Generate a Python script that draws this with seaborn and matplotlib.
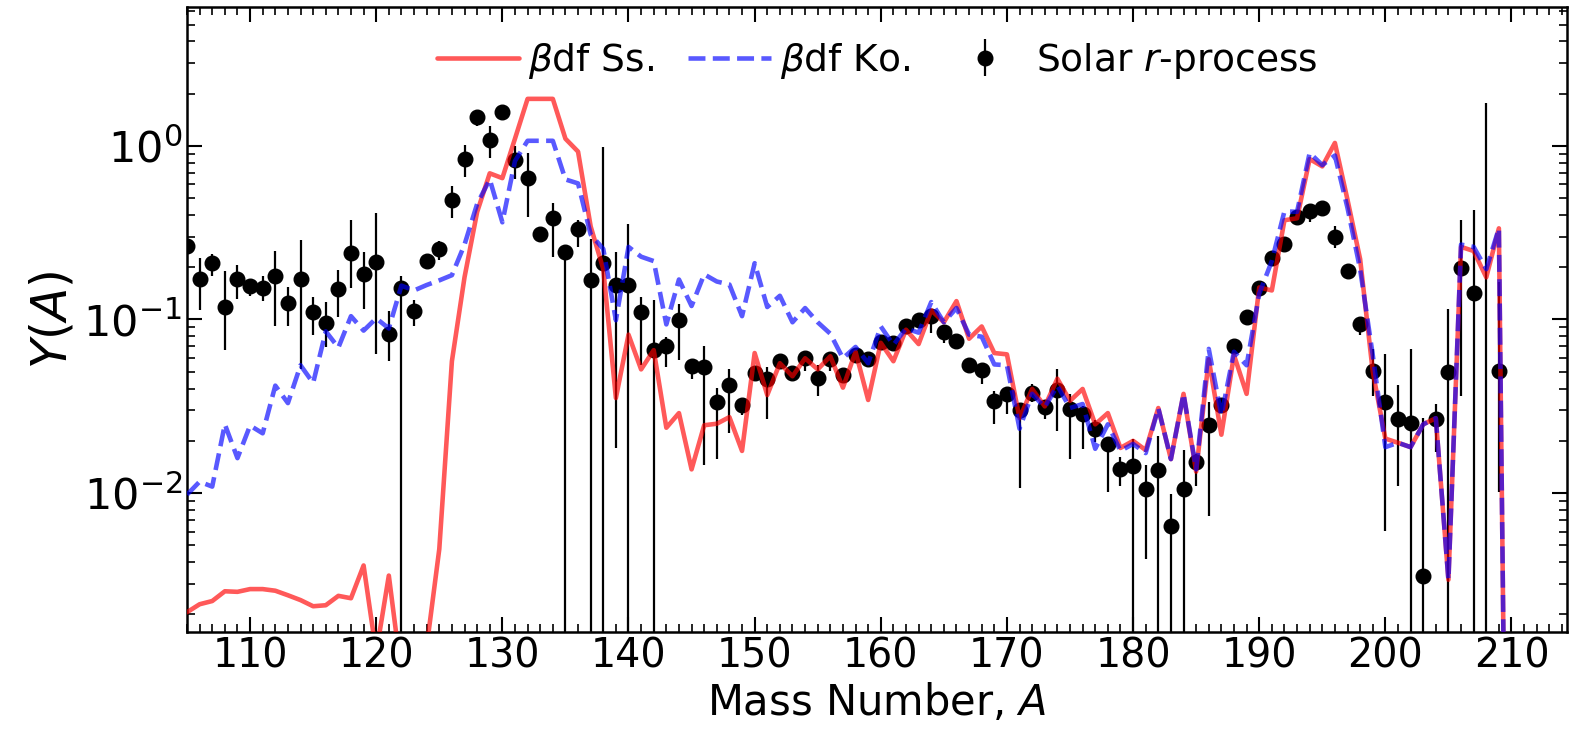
import numpy as np
import pandas as pd
import matplotlib
matplotlib.use("Agg")
import matplotlib.pyplot as plt
import seaborn as sns
from matplotlib.ticker import MultipleLocator, LogLocator

# ---------------- data ----------------
mass_model = list(range(105, 211))
ss_yield = [0.00206, 0.00229, 0.00239, 0.00272, 0.00270, 0.00280, 0.00280, 0.00274, 0.00258, 0.00242,
            0.00223, 0.00226, 0.00256, 0.00248, 0.00383, 0.0012, 0.00335, 0.0009, 0.0007, 0.0013,
            0.00476, 0.0575, 0.175, 0.416, 0.695, 0.652, 1.10, 1.866, 1.866, 1.866,
            1.10, 0.927, 0.344, 0.195, 0.0353, 0.0818, 0.0516, 0.0666, 0.0238, 0.0289,
            0.0137, 0.0246, 0.0251, 0.0274, 0.0175, 0.0641, 0.0367, 0.056, 0.0471, 0.0598,
            0.0516, 0.0614, 0.0405, 0.0652, 0.0344, 0.0734, 0.0575, 0.0873, 0.0722, 0.113,
            0.0964, 0.1276, 0.0775, 0.0912, 0.0641, 0.063, 0.027, 0.0398, 0.0316, 0.0456,
            0.034, 0.0398, 0.0249, 0.0289, 0.0182, 0.020, 0.0177, 0.0309, 0.0157, 0.0373,
            0.0133, 0.059, 0.0217, 0.0624, 0.0373, 0.153, 0.147, 0.373, 0.383, 0.84,
            0.762, 1.04, 0.489, 0.223, 0.0502, 0.0206, 0.0195, 0.0184, 0.0249, 0.027,
            0.00317, 0.262, 0.248, 0.175, 0.335, 1e-7]
ko_yield = [0.0098, 0.01164, 0.0109, 0.0249, 0.0159, 0.0245, 0.0221, 0.0416, 0.033, 0.0545,
            0.0431, 0.0855, 0.0689, 0.1045, 0.0863, 0.1016, 0.0888, 0.1567, 0.147, 0.158,
            0.168, 0.18, 0.27, 0.463, 0.641, 0.363, 0.818, 1.07, 1.07, 1.07,
            0.641, 0.608, 0.309, 0.255, 0.099, 0.262, 0.23, 0.217, 0.0937, 0.17,
            0.1196, 0.182, 0.1655, 0.159, 0.1045, 0.211, 0.118, 0.137, 0.0964, 0.1164,
            0.0964, 0.0828, 0.0598, 0.0695, 0.056, 0.0912, 0.0714, 0.0888, 0.084, 0.126,
            0.0964, 0.1164, 0.0818, 0.0796, 0.0551, 0.0545, 0.0235, 0.0373, 0.0312, 0.0416,
            0.0309, 0.0326, 0.018, 0.0249, 0.0175, 0.0192, 0.017, 0.0309, 0.0157, 0.0373,
            0.0137, 0.0677, 0.028, 0.0652, 0.0545, 0.1407, 0.217, 0.42, 0.417, 0.912,
            0.775, 0.88, 0.439, 0.195, 0.0624, 0.0184, 0.0195, 0.0184, 0.0249, 0.027,
            0.00317, 0.27, 0.262, 0.195, 0.335, 1e-7]

mass_solar = list(range(105, 210))
solar_y = [0.265, 0.170, 0.211, 0.118, 0.170, 0.155, 0.151, 0.177, 0.124, 0.170,
           0.110, 0.0952, 0.150, 0.242, 0.184, 0.213, 0.083, 0.151, 0.112, 0.217,
           0.255, 0.489, 0.841, 1.46, 1.085, 1.57, 0.827, 0.652, 0.309, 0.383,
           0.246, 0.33, 0.168, 0.211, 0.157, 0.159, 0.110, 0.0666, 0.0703, 0.099,
           0.054, 0.053, 0.0335, 0.042, 0.032, 0.0489, 0.0456, 0.0575, 0.0494, 0.0598,
           0.0463, 0.0591, 0.0476, 0.0624, 0.059, 0.074, 0.0734, 0.0912, 0.099, 0.1045,
           0.085, 0.0755, 0.0545, 0.051, 0.034, 0.0373, 0.030, 0.0379, 0.0314, 0.0394,
           0.0304, 0.0285, 0.0235, 0.0192, 0.0138, 0.0144, 0.0106, 0.0135, 0.00648, 0.0106,
           0.0151, 0.0246, 0.032, 0.0703, 0.1027, 0.1527, 0.227, 0.272, 0.39, 0.423,
           0.439, 0.30, 0.191, 0.0947, 0.0508, 0.0335, 0.0267, 0.0255, 0.00331, 0.0267,
           0.0497, 0.197, 0.142, 0.001, 0.0502]
solar_lo = [0.25, 0.113, 0.177, 0.0666, 0.131, 0.137, 0.128, 0.0922, 0.0913, 0.0522,
            0.0818, 0.0695, 0.103, 0.151, 0.115, 0.063, 0.0575, 0.0, 0.0922, 0.205,
            0.2195, 0.383, 0.666, 1.30, 0.85, 1.50, 0.641, 0.39, 0.29, 0.229,
            0.0, 0.262, 0.0, 0.0, 0.0182, 0.0, 0.0545, 0.0, 0.053, 0.0585,
            0.0456, 0.01445, 0.0157, 0.0223, 0.028, 0.046, 0.0267, 0.054, 0.046, 0.0508,
            0.0363, 0.0508, 0.045, 0.059, 0.056, 0.070, 0.070, 0.087, 0.094, 0.084,
            0.0734, 0.072, 0.052, 0.0426, 0.0251, 0.0285, 0.01073, 0.0335, 0.0267, 0.0229,
            0.0157, 0.018, 0.0196, 0.0102, 0.011, 0.0, 0.0042, 0.0, 0.0, 0.0,
            0.011, 0.00734, 0.030, 0.067, 0.098, 0.146, 0.217, 0.26, 0.373, 0.363,
            0.42, 0.258, 0.183, 0.0818, 0.0363, 0.00608, 0.011, 0.0, 0.0, 0.0173,
            0.0, 0.0363, 0.0, 0.0, 0.0102]
solar_hi = [0.28, 0.225, 0.239, 0.1915, 0.206, 0.170, 0.177, 0.248, 0.153, 0.288,
            0.135, 0.126, 0.192, 0.373, 0.246, 0.409, 0.112, 0.177, 0.130, 0.23,
            0.2845, 0.591, 1.016, 1.57, 1.30, 1.64, 1.0, 0.912, 0.33, 0.471,
            0.27, 0.373, 0.292, 0.989, 0.246, 0.353, 0.135, 0.130, 0.0796, 0.123,
            0.0591, 0.0703, 0.0405, 0.0516, 0.0348, 0.052, 0.053, 0.061, 0.053, 0.0641,
            0.0545, 0.0641, 0.050, 0.066, 0.062, 0.078, 0.077, 0.096, 0.104, 0.1133,
            0.0935, 0.079, 0.057, 0.056, 0.0385, 0.0405, 0.0326, 0.0426, 0.0345, 0.0516,
            0.0373, 0.0316, 0.0263, 0.0211, 0.01615, 0.0205, 0.01445, 0.0213, 0.00989, 0.01767,
            0.0167, 0.0335, 0.034, 0.074, 0.107, 0.16, 0.237, 0.285, 0.405, 0.463,
            0.46, 0.344, 0.20, 0.1016, 0.0672, 0.0636, 0.0422, 0.0672, 0.027, 0.0326,
            0.115, 0.373, 0.427, 1.77, 0.1655]

labels = [r"$\beta$df Ss.", r"$\beta$df Ko.", r"Solar $r$-process"]

# ---------------- plot ----------------
sns.set_style("ticks")
plt.rcParams['font.family'] = ['DejaVu Sans']
plt.rcParams['mathtext.fontset'] = 'dejavusans'
for k in ['text.color', 'axes.labelcolor', 'xtick.color', 'ytick.color', 'axes.edgecolor']:
    plt.rcParams[k] = 'black'

fig = plt.figure(figsize=(15.75, 7.45), dpi=100)
ax = fig.add_axes([187/1575, 1 - 632/745, (1567-187)/1575, (632-7)/745])

y_arr = np.array(solar_y)
err_lo = y_arr - np.maximum(np.array(solar_lo), 1e-9)
err_hi = np.array(solar_hi) - y_arr
ax.errorbar(mass_solar, solar_y, yerr=[err_lo, err_hi], fmt='o', color='black',
            ms=10.5, elinewidth=1.6, capsize=0, label=labels[2], zorder=2)

df = pd.DataFrame({"A": mass_model, "Ss": ss_yield, "Ko": ko_yield})
sns.lineplot(data=df, x="A", y="Ss", ax=ax, color='red', alpha=0.65, lw=3.3,
             label=labels[0], zorder=3)
sns.lineplot(data=df, x="A", y="Ko", ax=ax, color='blue', alpha=0.65, lw=3.3,
             linestyle='--', label=labels[1], zorder=4)

ax.set_yscale('log')
ax.set_xlim(105, 214.4)
ax.set_ylim(10**-2.8, 10**0.8)

ax.xaxis.set_major_locator(MultipleLocator(10))
ax.xaxis.set_minor_locator(MultipleLocator(1))
ax.yaxis.set_minor_locator(LogLocator(base=10, subs=np.arange(2, 10)))

ax.tick_params(which='both', direction='in', top=True, right=True)
ax.tick_params(which='major', length=10.5, width=1.5)
ax.tick_params(axis='x', which='major', labelsize=28.5)
ax.tick_params(axis='y', which='major', labelsize=31)
ax.tick_params(which='minor', length=5.5, width=1.2)
for s in ax.spines.values():
    s.set_linewidth(1.8)

ax.set_xlabel(r"Mass Number, $A$", fontsize=30)
ax.set_ylabel(r"$Y(A)$", fontsize=35, labelpad=5)

h, l = ax.get_legend_handles_labels()
order = [l.index(labels[0]), l.index(labels[1]), l.index(labels[2])]
ax.legend([h[i] for i in order], [l[i] for i in order], loc='upper center',
          ncol=3, frameon=False, fontsize=27, handlelength=2.2, handletextpad=0.25,
          columnspacing=0.9)

fig.savefig("out.png", dpi=100)
